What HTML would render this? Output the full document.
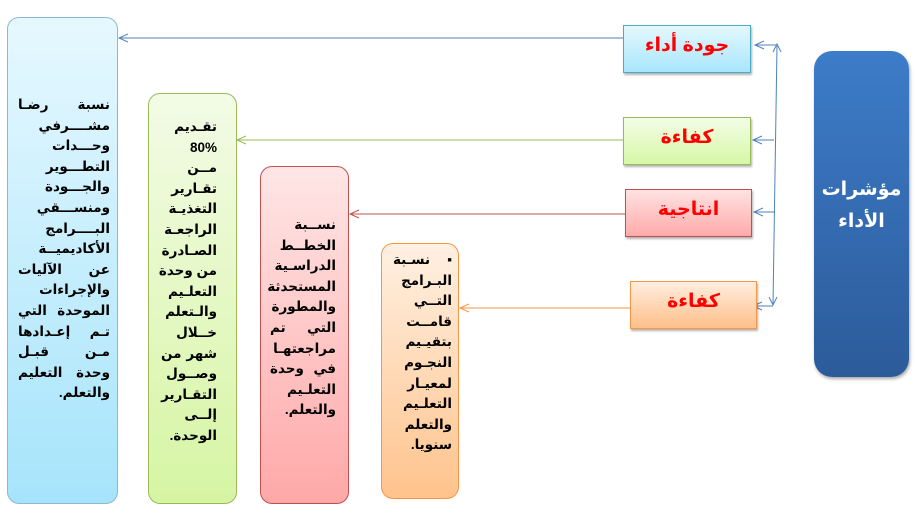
<!DOCTYPE html>
<html><head><meta charset="utf-8"><style>
body{margin:0;width:915px;height:513px;background:#fff;position:relative;overflow:hidden;font-family:"Liberation Sans","DejaVu Sans",sans-serif;}
.b{position:absolute;box-sizing:border-box;}
.t{position:absolute;direction:rtl;font-weight:bold;font-size:13.5px;line-height:20.6px;color:#000;}
.t div{text-align:justify;text-align-last:justify;white-space:nowrap;}
.lab{position:absolute;box-sizing:border-box;direction:rtl;text-align:center;font-weight:bold;font-size:19px;color:#ff0000;line-height:40px;box-shadow:1px 2px 2px rgba(0,0,0,.3);}
svg{position:absolute;left:0;top:0;}
</style></head><body>
<svg width="915" height="513">
<g fill="none" stroke-width="1">
<line x1="623" y1="38" x2="119" y2="38" stroke="#4f81bd"/><path d="M128,34 L119,38 L128,42" stroke="#4f81bd"/>
<line x1="623" y1="140" x2="237" y2="140" stroke="#9bbb59"/><path d="M246,136 L237,140 L246,144" stroke="#9bbb59"/>
<line x1="625" y1="214" x2="350" y2="214" stroke="#c0504d"/><path d="M359,210 L350,214 L359,218" stroke="#c0504d"/>
<line x1="630" y1="308" x2="460" y2="308" stroke="#f79646"/><path d="M469,304 L460,308 L469,312" stroke="#f79646"/>
<g stroke="#4f81bd">
<line x1="777" y1="45" x2="755" y2="45"/><path d="M764,41 L755,45 L764,49"/>
<line x1="774" y1="140" x2="753" y2="140"/><path d="M762,136 L753,140 L762,144"/>
<line x1="775" y1="212" x2="754" y2="212"/><path d="M763,208 L754,212 L763,216"/>
<line x1="773" y1="306" x2="753" y2="306"/><path d="M762,302 L753,306 L762,310"/>
<line x1="777" y1="46" x2="773" y2="304"/>
<path d="M773,52 L777,44 L781,52"/>
<path d="M769,297 L773,305 L777,297"/>
</g>
</g>
</svg>
<div class="b" style="left:7px;top:17px;width:111px;height:487px;border:1px solid #8fb7d0;border-radius:12px;background:linear-gradient(#e6f8ff,#a6e4fb);"></div>
<div class="t" style="left:18px;top:95px;width:92px;"><div>نسبة رضـا</div><div>مشــــرفي</div><div>وحـــدات</div><div>التطـــوير</div><div>والجـــودة</div><div>ومنســـقي</div><div>البــــرامج</div><div>الأكاديميــة</div><div>عن الآليات</div><div>والإجراءات</div><div>الموحدة التي</div><div>تـم إعـدادها</div><div>مـن قبـل</div><div>وحدة التعليم</div><div style="text-align-last:right">والتعلم.</div></div>
<div class="b" style="left:148px;top:93px;width:89px;height:411px;border:1px solid #9bbb59;border-radius:12px;background:linear-gradient(#f3fbe6,#d6f5a3);"></div>
<div class="t" style="left:161px;top:117px;width:56px;"><div>تقـديم</div><div style="text-align-last:right">80%</div><div>مــن</div><div>تقـارير</div><div>التغذيـة</div><div>الراجعـة</div><div>الصـادرة</div><div>من وحدة</div><div>التعلـيم</div><div>والـتعلم</div><div>خــلال</div><div>شهر من</div><div>وصــول</div><div>التقـارير</div><div>إلــى</div><div style="text-align-last:right">الوحدة.</div></div>
<div class="b" style="left:260px;top:166px;width:89px;height:338px;border:1px solid #c0504d;border-radius:12px;background:linear-gradient(#ffe6e6,#ffa8a8);"></div>
<div class="t" style="left:270px;top:215px;width:66px;"><div>نســبة</div><div>الخطــط</div><div>الدراسـية</div><div>المستحدثة</div><div>والمطورة</div><div>التي تم</div><div>مراجعتهـا</div><div>في وحدة</div><div>التعلـيم</div><div style="text-align-last:right">والتعلم.</div></div>
<div class="b" style="left:381px;top:243px;width:78px;height:256px;border:1px solid #f79646;border-radius:12px;background:linear-gradient(#fff0e2,#ffc38c);"></div>
<div class="t" style="left:393px;top:250px;width:59px;"><div>▪ نسـبة</div><div>البـرامج</div><div>التــي</div><div>قامــت</div><div>بتقيـيم</div><div>النجـوم</div><div>لمعيـار</div><div>التعلـيم</div><div>والتعلم</div><div style="text-align-last:right">سنويا.</div></div>
<div class="lab" style="left:623px;top:25px;width:128px;height:48px;border:1px solid #4bacc6;background:linear-gradient(#e4f8ff,#a8e6fb);">جودة أداء</div>
<div class="lab" style="left:623px;top:117px;width:128px;height:48px;border:1px solid #9bbb59;background:linear-gradient(#f3fde6,#d6f8a6);">كفاءة</div>
<div class="lab" style="left:625px;top:189px;width:127px;height:48px;border:1px solid #c0504d;background:linear-gradient(#ffe2e2,#ffaaaa);">انتاجية</div>
<div class="lab" style="left:630px;top:281px;width:127px;height:48px;border:1px solid #f79646;background:linear-gradient(#ffeedf,#ffc08a);">كفاءة</div>
<div class="b" style="left:814px;top:51px;width:95px;height:326px;border-radius:18px;background:linear-gradient(#3d7cc9,#2c5b9a);box-shadow:1px 2px 3px rgba(0,0,0,.35);"></div>
<div class="t" style="left:814px;top:174px;width:95px;text-align:center;color:#fff;font-size:19px;line-height:32px;">مؤشرات<br>الأداء</div>
</body></html>
